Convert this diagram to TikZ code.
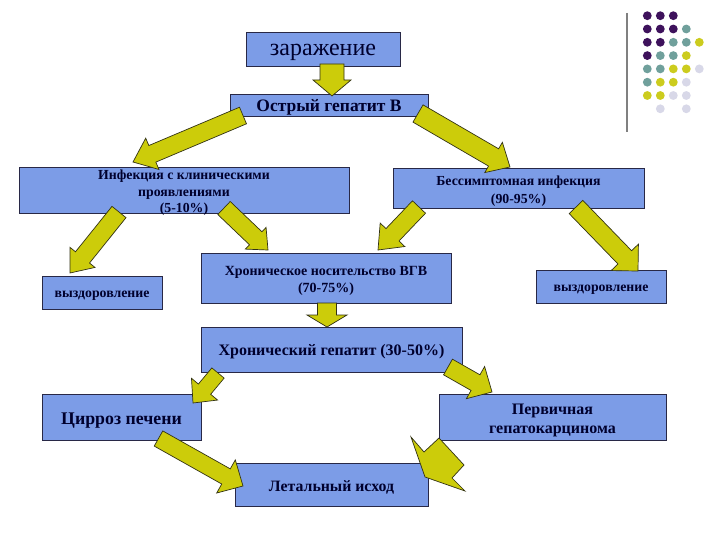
\documentclass[tikz,border=0pt]{standalone}
\usepackage{fontspec}
\setmainfont{Liberation Serif}
\usetikzlibrary{calc}
\definecolor{boxfill}{RGB}{124,156,231}
\definecolor{boxline}{RGB}{40,40,70}
\definecolor{txtc}{RGB}{0,0,45}
\definecolor{arrfill}{RGB}{204,204,10}
\definecolor{arrline}{RGB}{50,50,20}
\definecolor{dotP}{RGB}{62,18,92}
\definecolor{dotT}{RGB}{112,160,156}
\definecolor{dotY}{RGB}{204,204,30}
\definecolor{dotL}{RGB}{216,216,232}
\definecolor{vline}{RGB}{128,128,128}
\newcommand{\blockarr}[5]{%
  \coordinate (bN) at ($(#2)!#5pt!(#1)$);
  \draw[arr] ($(#1)!#3pt!90:(#2)$) -- ($(bN)!#3pt!-90:(#1)$) -- ($(bN)!#4pt!-90:(#1)$) -- (#2) -- ($(bN)!#4pt!90:(#1)$) -- ($(bN)!#3pt!90:(#1)$) -- ($(#1)!#3pt!-90:(#2)$) -- cycle;
}
\newcommand{\dotat}[3]{\fill[#3] ({647.3+13*(#1-1)},{15.7+13.3*(#2-1)}) circle (4.4pt);}
\newcommand{\fs}[2]{\fontsize{#1}{#2}\selectfont\bfseries}
\begin{document}
\begin{tikzpicture}[x=1pt,y=-1pt,
  box/.style={draw=boxline,line width=0.8pt,fill=boxfill,inner sep=0pt},
  lbl/.style={inner sep=0pt,align=center,text=txtc},
  arr/.style={draw=arrline,line width=0.7pt,fill=arrfill,line join=miter}]
\useasboundingbox[fill=white] (0,0) rectangle (720,540);
% decorative dot grid
\draw[vline,line width=2pt] (627,13) -- (627,132);
\dotat{1}{1}{dotP}\dotat{2}{1}{dotP}\dotat{3}{1}{dotP}
\dotat{1}{2}{dotP}\dotat{2}{2}{dotP}\dotat{3}{2}{dotP}\dotat{4}{2}{dotT}
\dotat{1}{3}{dotP}\dotat{2}{3}{dotP}\dotat{3}{3}{dotT}\dotat{4}{3}{dotT}\dotat{5}{3}{dotY}
\dotat{1}{4}{dotP}\dotat{2}{4}{dotT}\dotat{3}{4}{dotT}\dotat{4}{4}{dotY}
\dotat{1}{5}{dotT}\dotat{2}{5}{dotT}\dotat{3}{5}{dotY}\dotat{4}{5}{dotY}\dotat{5}{5}{dotL}
\dotat{1}{6}{dotT}\dotat{2}{6}{dotY}\dotat{3}{6}{dotY}\dotat{4}{6}{dotL}
\dotat{1}{7}{dotY}\dotat{2}{7}{dotY}\dotat{3}{7}{dotL}\dotat{4}{7}{dotL}
\dotat{2}{8}{dotL}\dotat{4}{8}{dotL}
% boxes
\node[box,minimum width=154pt,minimum height=34pt] (zar) at (323,49) {};
\node[box,minimum width=198pt,minimum height=22pt] (ost) at (329,105) {};
\node[box,minimum width=330pt,minimum height=46pt] (inf) at (184,190) {};
\node[box,minimum width=251pt,minimum height=40pt] (bes) at (518.5,188) {};
\node[box,minimum width=120pt,minimum height=33pt] (vyzL) at (102,292.5) {};
\node[box,minimum width=250pt,minimum height=50pt] (hrn) at (326,278) {};
\node[box,minimum width=130pt,minimum height=33pt] (vyzR) at (601,286.5) {};
\node[box,minimum width=261pt,minimum height=45pt] (hg) at (331.5,349.5) {};
\node[box,minimum width=159pt,minimum height=46pt] (cir) at (121.5,417) {};
\node[box,minimum width=227pt,minimum height=46pt] (perv) at (552.5,417) {};
\node[box,minimum width=193pt,minimum height=43pt] (let) at (331.5,484.5) {};
% texts
\node[lbl,font=\fontsize{24}{26}\selectfont] (zar-t) at ($(zar)+(0,3.5)$) {заражение};
\node[lbl,font=\fs{17.5}{20}] (ost-t) at ($(ost)+(0,2)$) {Острый гепатит В};
\node[lbl,font=\fs{13.8}{16.5}] (inf-t) at ($(inf)+(0,3)$) {Инфекция с клиническими\\проявлениями\\(5-10\%)};
\node[lbl,font=\fs{13.8}{17.7}] (bes-t) at ($(bes)+(0,3)$) {Бессимптомная инфекция\\(90-95\%)};
\node[lbl,font=\fs{13.8}{16}] (vyzL-t) at ($(vyzL)+(0,3)$) {выздоровление};
\node[lbl,font=\fs{14}{17.3}] (hrn-t) at ($(hrn)+(0,3)$) {Хроническое носительство ВГВ\\(70-75\%)};
\node[lbl,font=\fs{13.8}{16}] (vyzR-t) at ($(vyzR)+(0,3.5)$) {выздоровление};
\node[lbl,font=\fs{16}{18}] (hg-t) at ($(hg)+(0,2.5)$) {Хронический гепатит (30-50\%)};
\node[lbl,font=\fs{17.8}{20}] (cir-t) at ($(cir)+(0,4)$) {Цирроз печени};
\node[lbl,font=\fs{16}{19}] (perv-t) at ($(perv)+(0,3.5)$) {Первичная\\гепатокарцинома};
\node[lbl,font=\fs{15.8}{18}] (let-t) at ($(let)+(0,2.5)$) {Летальный исход};
% arrow ends
\coordinate (a1s) at (332,64);   \coordinate (a1e) at (332,96);
\coordinate (a2s) at (243,115.5);\coordinate (a2e) at (133,162);
\coordinate (a3s) at (418,113.5);\coordinate (a3e) at (510,167);
\coordinate (a4s) at (119,212);  \coordinate (a4e) at (70,273);
\coordinate (a5s) at (224,208);  \coordinate (a5e) at (268,250);
\coordinate (a6s) at (419,207);  \coordinate (a6e) at (378,250);
\coordinate (a7s) at (576,207);  \coordinate (a7e) at (638,271);
\coordinate (a8s) at (327,303);  \coordinate (a8e) at (327,327);
\coordinate (a9s) at (218,373);  \coordinate (a9e) at (193,403);
\coordinate (a10s) at (448,367); \coordinate (a10e) at (492,392);
\coordinate (a11s) at (158.5,438.5); \coordinate (a11e) at (243,486);
% block arrows
\blockarr{a1s}{a1e}{12}{19}{16}
\blockarr{a2s}{a2e}{9}{17}{21}
\blockarr{a3s}{a3e}{10}{17.5}{19}
\blockarr{a4s}{a4e}{9}{16}{20}
\blockarr{a5s}{a5e}{9}{15}{17}
\blockarr{a6s}{a6e}{9}{17}{21}
\blockarr{a7s}{a7e}{9.5}{19}{19}
\blockarr{a8s}{a8e}{9.5}{20}{12}
\blockarr{a9s}{a9e}{8}{17}{18}
\blockarr{a10s}{a10e}{9}{18.5}{19}
\blockarr{a11s}{a11e}{8.7}{19}{19.5}
% distorted arrow between perv and let
\draw[arr] (411,437) -- (424,452) -- (439,438) -- (464,465) -- (452,478) -- (465,491) -- (425,477) -- cycle;
\end{tikzpicture}
\end{document}
